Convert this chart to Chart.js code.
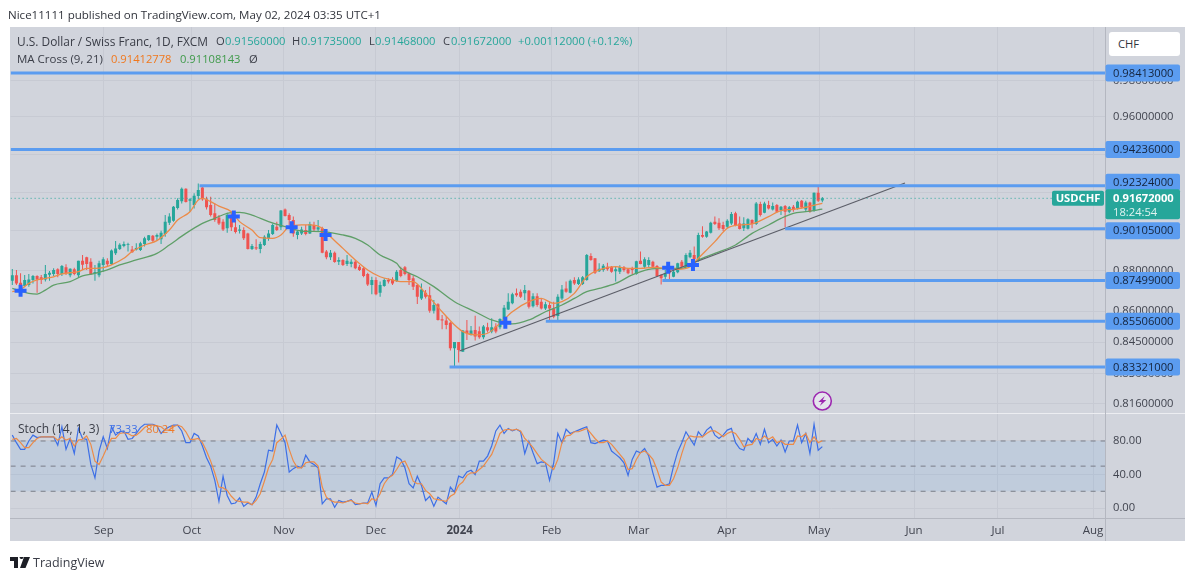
<!DOCTYPE html>
<html><head><meta charset="utf-8">
<style>
html,body{margin:0;padding:0;background:#fff;width:1195px;height:581px;overflow:hidden}
#c{position:absolute;left:0;top:0}
.t{position:absolute;font:11.2px "Open Sans",sans-serif;white-space:nowrap;color:#3a3d47;line-height:14px}
</style></head><body>
<canvas id="c" width="1195" height="581"></canvas>
<script src="https://cdn.jsdelivr.net/npm/chart.js@4"></script>
<script>
const opens=[.8749,.8776,.8739,.8723,.8728,.8753,.8773,.8766,.8756,.8779,
.8783,.8806,.8783,.8816,.8776,.8806,.8776,.8849,.8866,.8844,
.8786,.8776,.8828,.8849,.8833,.8886,.8908,.8923,.8930,.8906,
.8906,.8903,.8933,.8953,.8975,.8970,.8957,.8984,.9041,.9052,
.9117,.9152,.9217,.9155,.9133,.9179,.9224,.9162,.9133,.9090,
.9068,.9047,.9013,.9081,.9018,.9000,.9004,.8987,.8908,.8917,
.8908,.8928,.8962,.8984,.9021,.9018,.9110,.9081,.9055,.8979,
.8987,.9004,.8987,.9030,.9007,.9013,.8895,.8866,.8889,.8844,
.8853,.8833,.8833,.8844,.8819,.8811,.8783,.8728,.8753,.8690,
.8723,.8753,.8756,.8748,.8803,
.8816,.8786,.8761,.8728,.8662,.8690,.8678,.8602,.8633,.8560,
.8554,.8544,.8421,.8451,.8405,.8506,.8485,.8509,.8503,.8474,
.8522,.8501,.8525,.8522,.8557,.8608,.8638,.8687,.8695,.8687,
.8700,.8624,.8673,.8646,.8613,.8630,.8613,.8576,.8662,.8711,
.8690,.8753,.8733,.8733,.8753,.8873,.8861,.8796,.8803,.8819,
.8819,.8796,.8794,.8816,.8806,.8811,.8783,.8849,.8819,.8828,
.8844,.8823,.8778,.8769,.8803,.8769,.8791,.8844,.8819,.8866,
.8878,.8849,.8979,.8970,.8990,.9047,.9041,.9030,.9021,.9038,
.9090,.9038,.9013,.9011,.9055,.9035,.9138,.9093,.9133,.9110,
.9133,.9107,.9127,.9098,.9124,.9115,.9155,.9110,.9145,.9104,
.9196,.9156];
const highs=[.8808,.8803,.8786,.8778,.8783,.8778,.8776,.8778,.8828,.8798,
.8811,.8811,.8828,.8831,.8811,.8814,.8849,.8878,.8869,.8861,
.8828,.8849,.8866,.8861,.8906,.8948,.8937,.8946,.8940,.8923,
.8937,.8945,.8970,.8979,.8979,.8987,.9000,.9081,.9090,.9127,
.9167,.9224,.9219,.9167,.9193,.9245,.9236,.9176,.9176,.9141,
.9081,.9059,.9093,.9090,.9055,.9030,.9018,.8990,.8933,.8957,
.8945,.8977,.9004,.9038,.9047,.9107,.9115,.9090,.9073,.9004,
.9021,.9030,.9047,.9047,.9055,.9021,.8903,.8903,.8895,.8866,
.8856,.8878,.8856,.8853,.8828,.8819,.8789,.8769,.8766,.8745,
.8761,.8761,.8766,.8803,.8819,
.8823,.8789,.8773,.8733,.8736,.8703,.8720,.8654,.8638,.8581,
.8576,.8549,.8451,.8451,.8509,.8557,.8528,.8578,.8525,.8533,
.8544,.8565,.8541,.8565,.8630,.8687,.8690,.8711,.8706,.8728,
.8703,.8687,.8687,.8662,.8646,.8646,.8646,.8683,.8728,.8745,
.8756,.8766,.8766,.8773,.8883,.8886,.8861,.8836,.8833,.8839,
.8823,.8819,.8826,.8823,.8811,.8819,.8849,.8895,.8866,.8866,
.8849,.8828,.8783,.8803,.8819,.8806,.8839,.8853,.8886,.8903,
.8920,.8990,.9024,.8999,.9047,.9073,.9064,.9047,.9059,.9097,
.9098,.9073,.9069,.9064,.9059,.9148,.9150,.9150,.9155,.9145,
.9138,.9127,.9133,.9127,.9133,.9155,.9159,.9155,.9150,.9198,
.9228,.91735];
const lows=[.8728,.8728,.8683,.8717,.8720,.8736,.8690,.8733,.8745,.8749,
.8773,.8766,.8773,.8778,.8766,.8776,.8766,.8803,.8803,.8778,
.8749,.8766,.8794,.8819,.8828,.8878,.8903,.8917,.8895,.8889,
.8900,.8898,.8920,.8948,.8945,.8950,.8933,.8970,.9030,.9047,
.9110,.9141,.9145,.9098,.9115,.9162,.9155,.9110,.9073,.9047,
.9030,.8999,.8990,.8999,.8987,.8987,.8953,.8906,.8903,.8903,
.8886,.8923,.8950,.8979,.8999,.9004,.9073,.9030,.8970,.8957,
.8979,.8977,.8984,.8999,.8994,.8886,.8856,.8853,.8839,.8828,
.8823,.8823,.8816,.8806,.8798,.8766,.8723,.8683,.8678,.8670,
.8720,.8736,.8728,.8743,.8766,
.8776,.8728,.8703,.8635,.8654,.8662,.8592,.8589,.8554,.8512,
.8512,.8410,.8335,.8354,.8405,.8461,.8482,.8458,.8466,.8464,
.8496,.8493,.8493,.8512,.8554,.8605,.8633,.8670,.8664,.8654,
.8613,.8618,.8621,.8608,.8605,.8557,.8565,.8557,.8654,.8690,
.8687,.8728,.8728,.8728,.8749,.8849,.8783,.8793,.8794,.8799,
.8789,.8745,.8783,.8794,.8781,.8783,.8779,.8831,.8811,.8816,
.8814,.8769,.8731,.8749,.8753,.8766,.8786,.8816,.8816,.8861,
.8849,.8844,.8965,.8965,.8987,.9030,.9004,.8999,.9013,.9030,
.9024,.9007,.8999,.9007,.9013,.9030,.9073,.9090,.9110,.9104,
.9093,.9081,.9018,.9090,.9098,.9110,.9115,.9098,.9093,.9098,
.9148,.91468];
const closes=[.8776,.8736,.8700,.8753,.8756,.8773,.8756,.8753,.8783,.8789,
.8803,.8783,.8823,.8786,.8809,.8783,.8849,.8829,.8833,.8781,
.8793,.8836,.8856,.8831,.8900,.8910,.8930,.8933,.8933,.8892,
.8913,.8937,.8962,.8977,.8950,.8979,.8990,.9047,.9073,.9124,
.9159,.9217,.9148,.9162,.9181,.9210,.9162,.9121,.9081,.9055,
.9038,.9007,.9081,.9018,.8994,.9007,.8962,.8908,.8923,.8911,
.8933,.8970,.8987,.9030,.9004,.9104,.9076,.9055,.8987,.8996,
.9007,.8984,.9035,.9007,.9018,.8889,.8866,.8889,.8843,.8853,
.8828,.8849,.8844,.8811,.8803,.8773,.8731,.8753,.8683,.8728,
.8753,.8745,.8736,.8794,.8773,
.8783,.8753,.8720,.8670,.8706,.8670,.8602,.8630,.8557,.8554,
.8533,.8421,.8451,.8413,.8506,.8493,.8506,.8477,.8474,.8525,
.8506,.8522,.8501,.8562,.8616,.8646,.8683,.8678,.8670,.8703,
.8621,.8673,.8630,.8613,.8633,.8613,.8573,.8670,.8706,.8695,
.8749,.8736,.8756,.8766,.8878,.8853,.8789,.8809,.8824,.8806,
.8794,.8806,.8816,.8803,.8786,.8803,.8846,.8833,.8856,.8853,
.8819,.8773,.8761,.8786,.8789,.8794,.8836,.8819,.8878,.8889,
.8856,.8979,.8970,.8996,.9041,.9035,.9013,.9009,.9052,.9086,
.9030,.9009,.9038,.9059,.9035,.9141,.9081,.9141,.9115,.9127,
.9098,.9124,.9098,.9121,.9110,.9150,.9121,.9145,.9098,.9196,
.9155,.91672];

const maFastBars=[0,2,4,6,8,10,12,14,16,18,20,22,24,27,29,32,35,38,40,43,45,46,48,50,53,55,58,60,63,65,67,70,72,75,77,80,83,86,89,92,94,97,100,104,107,109,112,115,118,121,125,128,131,133,136,139,142,146,149,152,155,158,161,164,166,170,173,176,179,183,186,189,192,196];
const maFastVals=[.8695,.8706,.8736,.8753,.8761,.8769,.8783,.8789,.8794,.8811,.8811,.8814,.8828,.8861,.8895,.8928,.8950,.9004,.9055,.9098,.9159,.9167,.9150,.9127,.9098,.9047,.9004,.8965,.8962,.8979,.9021,.9030,.9030,.9013,.8970,.8911,.8853,.8803,.8769,.8753,.8745,.8745,.8687,.8597,.8533,.8501,.8485,.8493,.8541,.8597,.8646,.8662,.8638,.8646,.8687,.8769,.8803,.8819,.8811,.8811,.8816,.8811,.8806,.8819,.8861,.8945,.9013,.9030,.9035,.9073,.9104,.9110,.9121,.91413];
const maSlowBars=[0,4,6,8,10,14,17,20,23,26,30,35,38,42,46,49,52,55,58,62,66,70,75,80,83,86,89,93,94,98,102,107,112,116,121,125,129,133,136,139,142,146,150,154,158,162,166,170,175,179,183,186,189,192,196];
const maSlowVals=[.8711,.8687,.8683,.8703,.8728,.8745,.8773,.8786,.8803,.8828,.8853,.8886,.8928,.8987,.9038,.9064,.9090,.9095,.9081,.9047,.9021,.8999,.8996,.8979,.8962,.8928,.8878,.8836,.8811,.8769,.8720,.8646,.8597,.8557,.8538,.8557,.8597,.8630,.8662,.8695,.8711,.8736,.8778,.8806,.8811,.8811,.8853,.8886,.8928,.8987,.9030,.9064,.9090,.9098,.91108];

const stochK=[87,78,70,70,80,87,84,85,85,85,85,75,97,70,83,65,95,83,82,52,36,68,85,71,97,87,91,92,82,83,89,96,100,100,100,98,89,94,97,99,99,92,78,78,89,86,74,60,50,33,8,38,15,5,6,12,2,6,4,13,29,43,69,68,99,89,78,43,47,50,48,63,55,52,48,5,11,11,1,9,7,8,10,4,5,6,6,19,3,29,36,36,40,61,58,48,29,24,38,27,9,14,2,13,9,5,25,19,38,36,43,45,40,56,56,62,74,92,99,89,95,92,94,91,65,80,66,53,55,54,33,54,89,78,94,89,91,93,95,97,78,77,79,81,80,68,64,60,54,39,58,68,66,71,62,42,25,27,27,29,50,67,78,91,83,75,91,85,93,97,87,83,87,93,95,78,71,69,83,78,89,76,94,78,82,74,81,67,80,80,99,78,89,65,100,69,73.33];
const stochD=[82,83,78,72,72,78,83,85,85,85,85,81,85,81,83,74,81,82,86,76,56,52,62,73,83,83,89,90,89,86,87,91,96,99,99,98,97,93,93,97,99,97,91,82,82,83,78,68,56,42,25,24,21,14,9,8,7,7,4,9,17,32,48,58,78,82,87,70,56,48,48,54,55,55,50,25,13,9,7,7,6,8,9,6,5,6,5,11,9,17,29,36,39,46,54,56,46,32,29,29,21,17,11,10,9,8,14,17,27,31,39,42,42,46,50,57,64,76,89,93,94,93,94,92,83,78,72,65,58,54,50,46,58,78,86,87,91,91,93,95,89,83,78,78,80,76,70,64,58,46,47,58,66,68,64,58,46,31,27,27,35,48,65,80,86,85,85,85,89,92,92,89,85,89,91,89,82,73,75,76,83,81,86,82,85,78,80,76,76,76,86,85,89,78,85,78,80.24];

const levelPrices=[.98413,.94236,.92324,.90105,.87499,.85506,.83321];
const levelStartBars=[-0.41,-0.41,45.3,187,157.3,129.1,105.8];
const levelLabels=["0.98413000","0.94236000","0.92324000","0.90105000","0.87499000","0.85506000","0.83321000"];
const trendBars=[108.2,216];
const trendPrices=[.8408,.9247];
const crossBars=[2,53.6,67.6,75.8,119.3,158.7,164.7];
const crossPrices=[.8700,.9073,.9018,.8979,.8544,.8814,.8828];
const stochLevels=[80,50,20];
const priceTicks=[.816,.83,.845,.86,.88,.90,.92,.94,.96,.98];
const stochTicks=[0,40,80];
const timeTickBars=[22.15,43.45,65.7,87.95,108.25,130.5,151.6,172.9,195.2,218.2,238.5,261.5];
const timeTickLabels=["Sep","Oct","Nov","Dec","2024","Feb","Mar","Apr","May","Jun","Jul","Aug"];
const lastPrice=.91672, alertBar=196, alertPrice=.8173;
const symbolName="USDCHF", countdown="18:24:54", lastLabel="0.91672000";

const X_MIN=-0.41, X_MAX=264.4;
const FONT='"Open Sans",sans-serif';
const UP='#26a69a', DOWN='#ef5350', LEVEL='#5b9cf0', BG='#d1d4dc', GRID='#c7cad3';
Chart.defaults.font.family=FONT;
Chart.defaults.font.size=11.2;

const idx=opens.map((_,i)=>i);
const col=idx.map(i=>closes[i]>=opens[i]?UP:DOWN);
const xy=(a,b)=>a.map((x,i)=>({x,y:b[i]}));
const lineDefaults={type:'line',pointRadius:0,fill:false,borderCapStyle:'butt'};

const datasets=[
 {type:'bar',label:'Wick',yAxisID:'y',order:20,grouped:false,barThickness:1,inflateAmount:0,
  data:idx.map(i=>({x:i,y:[lows[i],highs[i]]})),backgroundColor:col},
 {type:'bar',label:'Body',yAxisID:'y',order:19,grouped:false,barThickness:3,inflateAmount:0,
  data:idx.map(i=>({x:i,y:[Math.min(opens[i],closes[i]),Math.max(opens[i],closes[i])]})),backgroundColor:col},
 {...lineDefaults,label:'MA 21',yAxisID:'y',order:10,data:xy(maSlowBars,maSlowVals),borderColor:'#5f9f68',borderWidth:1.3,cubicInterpolationMode:'monotone'},
 {...lineDefaults,label:'MA 9',yAxisID:'y',order:9,data:xy(maFastBars,maFastVals),borderColor:'#ec8b48',borderWidth:1.3,cubicInterpolationMode:'monotone'},
 {...lineDefaults,label:'Trend',yAxisID:'y',order:8,data:xy(trendBars,trendPrices),borderColor:'#5c5e68',borderWidth:1.2},
 {...lineDefaults,label:'Last',yAxisID:'y',order:12,data:xy([X_MIN,X_MAX],[lastPrice,lastPrice]),borderColor:'#26a69a',borderWidth:1,borderDash:[1,3]},
 ...levelPrices.map((p,k)=>({...lineDefaults,label:'Level '+levelLabels[k],yAxisID:'y',order:7,
   data:xy([levelStartBars[k],X_MAX],[p,p]),borderColor:LEVEL,borderWidth:3})),
 {...lineDefaults,type:'scatter',showLine:false,label:'Cross',yAxisID:'y',order:5,data:xy(crossBars,crossPrices),
   pointStyle:'cross',pointRadius:6,borderWidth:4,pointBorderWidth:4,pointBorderColor:'#2962ff',borderColor:'#2962ff'},
 {...lineDefaults,type:'scatter',showLine:false,label:'Alert',yAxisID:'y',order:4,data:[{x:alertBar,y:alertPrice}],
   pointStyle:'circle',pointRadius:9,pointBorderWidth:1.6,pointBorderColor:'#9c27b0',pointBackgroundColor:'#e4e4ec'},
 {...lineDefaults,label:'Band',yAxisID:'ys',order:30,data:xy([X_MIN,X_MAX],[stochLevels[0],stochLevels[0]]),borderWidth:0,
   fill:{target:{value:stochLevels[2]},above:'rgba(20,130,225,0.09)',below:'rgba(20,130,225,0.09)'}},
 ...stochLevels.map(v=>({...lineDefaults,label:'Stoch '+v,yAxisID:'ys',order:15,data:xy([X_MIN,X_MAX],[v,v]),borderColor:'#7a7d88',borderWidth:1,borderDash:[5,5]})),
 {...lineDefaults,label:'%K',yAxisID:'ys',order:3,data:xy(idx,stochK),borderColor:'#3d6fe6',borderWidth:1.2},
 {...lineDefaults,label:'%D',yAxisID:'ys',order:2,data:xy(idx,stochD),borderColor:'#ec8b48',borderWidth:1.2},
];

function tag(ctx,y,h,color){ctx.fillStyle=color;ctx.beginPath();ctx.roundRect(1105.5,y-h/2,74.5,h,2);ctx.fill();}

const TAG_NUDGE=[0,0,-3.5,2,0,0,0];
const decor={
 id:'decor',
 beforeDraw(chart){
  const c=chart.ctx;c.save();c.fillStyle=BG;c.fillRect(10,27,1175,514);c.restore();
 },
 afterDatasetsDraw(chart){
  const c=chart.ctx,y=chart.scales.y,x=chart.scales.x;c.save();
  const ax=x.getPixelForValue(alertBar),ay=y.getPixelForValue(alertPrice);
  c.fillStyle='#9c27b0';c.beginPath();
  c.moveTo(ax+2.5,ay-5);c.lineTo(ax-4,ay+1);c.lineTo(ax-.5,ay+1);c.lineTo(ax-2.5,ay+5);c.lineTo(ax+4,ay-1);c.lineTo(ax+.5,ay-1);c.closePath();c.fill();
  c.fillStyle='#ecedf1';c.fillRect(10,413,1175,1);
  c.fillStyle='#b4b7c0';c.fillRect(10,518,1175,1);c.fillRect(1105,27,1,514);
  c.fillStyle='#fff';c.fillRect(0,0,1195,27);c.fillRect(0,541,1195,40);
  c.font='11.2px '+FONT;c.textBaseline='middle';c.textAlign='left';
  levelPrices.forEach((p,k)=>{
   const py=y.getPixelForValue(p)+TAG_NUDGE[k];tag(c,py,17,LEVEL);
   c.fillStyle='#14233c';c.fillText(levelLabels[k],1113,py+.5);
  });
  const ly=y.getPixelForValue(lastPrice);
  tag(c,ly+6,30,UP);
  c.fillStyle='#fff';c.font='bold 11.2px '+FONT;c.fillText(lastLabel,1113,ly);
  c.font='11.2px '+FONT;c.fillStyle='#dff3f0';c.fillText(countdown,1113,ly+14);
  c.fillStyle=UP;c.beginPath();c.roundRect(1052,ly-7.5,52,15,2);c.fill();
  c.fillStyle='#fff';c.font='bold 11.2px '+FONT;c.textAlign='center';c.fillText(symbolName,1078,ly+.5);
  c.restore();
 }
};

new Chart(document.getElementById('c'),{
 type:'bar',
 data:{datasets},
 plugins:[decor],
 options:{
  responsive:false,animation:false,devicePixelRatio:1,
  layout:{padding:{left:10,top:27,right:10,bottom:40}},
  plugins:{legend:{display:false},tooltip:{enabled:false},title:{display:false}},
  scales:{
   x:{type:'linear',min:X_MIN,max:X_MAX,offset:false,bounds:'data',
     grid:{offset:false,color:GRID,drawTicks:false,lineWidth:1},border:{display:false},
     afterBuildTicks(s){s.ticks=timeTickBars.map(v=>({value:v}));},
     afterFit(s){s.height=23;},
     ticks:{autoSkip:false,maxRotation:0,padding:6,color:'#41444f',
       font:c=>c.index===4?{weight:'bold',size:11.5}:{size:11.5},
       callback:(v,i)=>timeTickLabels[i]}},
   y:{type:'logarithmic',position:'right',stack:'panes',stackWeight:386,weight:1,min:.8118,max:1.0101,bounds:'data',
     grid:{color:GRID,drawTicks:false},border:{display:false},
     afterBuildTicks(s){s.ticks=priceTicks.map(v=>({value:v}));},
     afterFit(s){s.width=80;},
     ticks:{autoSkip:false,padding:8,color:'#41444f',callback:v=>Number(v).toFixed(8)}},
   ys:{type:'linear',position:'right',stack:'panes',stackWeight:105,weight:2,min:-11.9,max:113.4,bounds:'data',
     grid:{color:GRID,drawTicks:false},border:{display:false},
     afterBuildTicks(s){s.ticks=stochTicks.map(v=>({value:v}));},
     afterFit(s){s.width=80;},
     ticks:{autoSkip:false,padding:8,color:'#41444f',callback:v=>Number(v).toFixed(2)}}
  }
 }
});
</script>
<div class="t" style="left:8px;top:8px;font-size:11.55px;color:#30333b">Nice11111 published on TradingView.com, May 02, 2024 03:35 UTC+1</div>
<div class="t" style="left:17px;top:34px;font-size:11.9px">U.S. Dollar / Swiss Franc, 1D, FXCM</div>
<div class="t" style="left:216px;top:34px">O</div><div class="t" style="left:225px;top:34px;color:#26a69a">0.91560000</div>
<div class="t" style="left:292px;top:34px">H</div><div class="t" style="left:301px;top:34px;color:#26a69a">0.91735000</div>
<div class="t" style="left:369px;top:34px">L</div><div class="t" style="left:375px;top:34px;color:#26a69a">0.91468000</div>
<div class="t" style="left:443px;top:34px">C</div><div class="t" style="left:451px;top:34px;color:#26a69a">0.91672000</div>
<div class="t" style="left:518px;top:34px;color:#26a69a">+0.00112000 (+0.12%)</div>
<div class="t" style="left:17px;top:52px;font-size:11.5px">MA Cross (9, 21)</div>
<div class="t" style="left:111px;top:52px;color:#f0781e">0.91412778</div>
<div class="t" style="left:180px;top:52px;color:#3f9a4a">0.91108143</div>
<div class="t" style="left:249px;top:52px">Ø</div>
<div class="t" style="left:18px;top:422px;font-size:12px">Stoch (14, 1, 3)</div>
<div class="t" style="left:109px;top:422px;color:#3d6fe6">73.33</div>
<div class="t" style="left:146px;top:422px;color:#ee7a2a">80.24</div>
<div style="position:absolute;left:1109px;top:32px;width:71px;height:24px;background:#fff;border-radius:3px"></div>
<div class="t" style="left:1118px;top:37px;color:#30333b">CHF</div>
<svg style="position:absolute;left:10px;top:557px" width="20" height="12" viewBox="0 0 20 12"><path fill="#1d1f26" d="M0 0h8v11H4V4H0zM9.5 0a2 2 0 1 1 0 .01zM14 0h6l-4.5 11H10z"/></svg>
<div class="t" style="left:33px;top:556px;font-size:12.5px;color:#3a3d47">TradingView</div>
</body></html>
